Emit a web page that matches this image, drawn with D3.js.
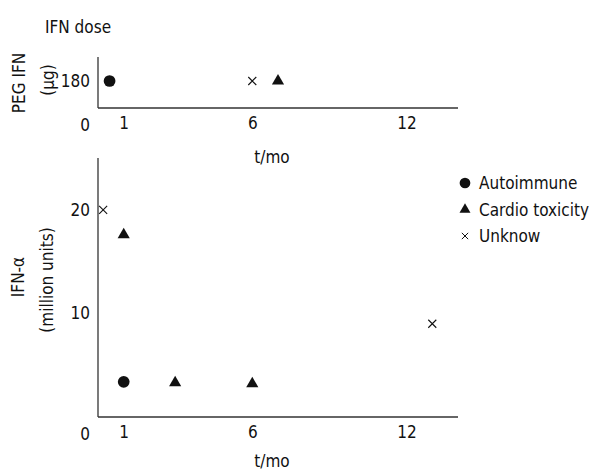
<!DOCTYPE html>
<html>
<head>
<meta charset="utf-8">
<script src="https://cdn.jsdelivr.net/npm/d3@7"></script>
<style>
  body { margin: 0; background: #fff; }
  svg text { font-family: "DejaVu Sans Condensed", "DejaVu Sans", sans-serif; font-stretch: condensed; font-size: 17px; fill: #111; }
</style>
</head>
<body>
<svg id="svgID" width="598" height="471"></svg>
<script>
// series names (legend order)
var seriesNames = ["Autoimmune", "Cardio toxicity", "Unknow"];

// top panel: PEG IFN dose (ug) vs time (months)
var pegAutoimmune = [[0.45, 180]];
var pegCardio = [[7, 180]];
var pegUnknow = [[6, 180]];

// bottom panel: IFN-alpha (million units) vs time (months)
var ifnAutoimmune = [[1, 3.4]];
var ifnCardio = [[1, 17.6], [3, 3.3], [6, 3.2]];
var ifnUnknow = [[0.2, 20], [13, 9]];

// tick labels
var xTicks = [1, 6, 12];
var pegTicks = [180];
var ifnTicks = [10, 20];

var svg = d3.select("#svgID");
var ink = "#111";

var xScale = d3.scaleLinear().domain([0, 14]).range([98, 458]);
var yPeg = d3.scaleLinear().domain([0, 340]).range([108, 57]);
var yIfn = d3.scaleLinear().domain([0, 25]).range([417, 158]);

// cross marker (thin x)
var crossSymbol = {
  draw: function(ctx, size) {
    var r = Math.sqrt(size) / 2;
    ctx.moveTo(-r, -r); ctx.lineTo(r, r);
    ctx.moveTo(r, -r); ctx.lineTo(-r, r);
  }
};

var markers = [
  { type: d3.symbolCircle, size: 108, fill: ink, stroke: "none" },
  { type: d3.symbolTriangle, size: 64, fill: ink, stroke: "none" },
  { type: crossSymbol, size: 64, fill: "none", stroke: ink }
];

function drawPanel(yScale, yTickVals, data, axisY) {
  var g = svg.append("g");

  // axes lines
  g.append("line")
    .attr("x1", xScale(0)).attr("x2", xScale(0))
    .attr("y1", yScale.range()[1]).attr("y2", yScale.range()[0])
    .attr("stroke", "#333").attr("stroke-width", 1.3);
  g.append("line")
    .attr("x1", xScale(0)).attr("x2", xScale.range()[1])
    .attr("y1", yScale.range()[0]).attr("y2", yScale.range()[0])
    .attr("stroke", "#333").attr("stroke-width", 1.3);

  // x tick labels (no tick marks)
  var xAxis = g.append("g")
    .attr("transform", "translate(0," + yScale.range()[0] + ")")
    .call(d3.axisBottom(xScale).tickValues(xTicks).tickSize(0).tickPadding(9).tickFormat(d3.format("d")));
  xAxis.select(".domain").remove();
  xAxis.selectAll("text").attr("fill", ink).style("font-size", null).style("font-family", null);
  xAxis.attr("font-size", null).attr("font-family", null);

  // origin label
  g.append("text")
    .attr("x", 85).attr("y", yScale.range()[0] + 23)
    .attr("text-anchor", "middle")
    .text("0");

  // y tick labels
  var yAxis = g.append("g")
    .attr("transform", "translate(" + xScale(0) + ",0)")
    .call(d3.axisLeft(yScale).tickValues(yTickVals).tickSize(0).tickPadding(8).tickFormat(d3.format("d")));
  yAxis.select(".domain").remove();
  yAxis.selectAll("text").attr("fill", ink);
  yAxis.attr("font-size", null).attr("font-family", null);

  // points
  data.forEach(function(pts, i) {
    var m = markers[i];
    g.selectAll(".pt" + i)
      .data(pts)
      .enter()
      .append("path")
        .attr("d", d3.symbol().type(m.type).size(m.size))
        .attr("transform", function(d) { return "translate(" + xScale(d[0]) + "," + yScale(d[1]) + ")"; })
        .attr("fill", m.fill)
        .attr("stroke", m.stroke)
        .attr("stroke-width", 1.1);
  });

  // x axis title
  g.append("text")
    .attr("x", 272).attr("y", axisY)
    .attr("text-anchor", "middle")
    .text("t/mo");
}

drawPanel(yPeg, pegTicks, [pegAutoimmune, pegCardio, pegUnknow], 163);
drawPanel(yIfn, ifnTicks, [ifnAutoimmune, ifnCardio, ifnUnknow], 467);

// title
svg.append("text").attr("x", 45).attr("y", 33).text("IFN dose");

// y axis titles (rotated)
svg.append("text")
  .attr("transform", "translate(25,83) rotate(-90)")
  .attr("text-anchor", "middle")
  .text("PEG IFN");
svg.append("text")
  .attr("transform", "translate(54,80) rotate(-90)")
  .attr("text-anchor", "middle")
  .text("(\u03bcg)");
svg.append("text")
  .attr("transform", "translate(24,277) rotate(-90)")
  .attr("text-anchor", "middle")
  .text("IFN-\u03b1");
svg.append("text")
  .attr("transform", "translate(53,280) rotate(-90)")
  .attr("text-anchor", "middle")
  .text("(million units)");

// legend
var legend = svg.append("g").attr("transform", "translate(465,183)");
var rows = legend.selectAll(".row")
  .data(seriesNames)
  .enter()
  .append("g")
    .attr("transform", function(d, i) { return "translate(0," + (i * 26.5) + ")"; });
rows.append("path")
  .attr("d", function(d, i) {
    var sizes = [90, 52, 40];
    return d3.symbol().type(markers[i].type).size(sizes[i])();
  })
  .attr("fill", function(d, i) { return markers[i].fill; })
  .attr("stroke", function(d, i) { return markers[i].stroke; })
  .attr("stroke-width", 1);
rows.append("text")
  .attr("x", 14).attr("y", 6)
  .text(function(d) { return d; });
</script>
</body>
</html>
